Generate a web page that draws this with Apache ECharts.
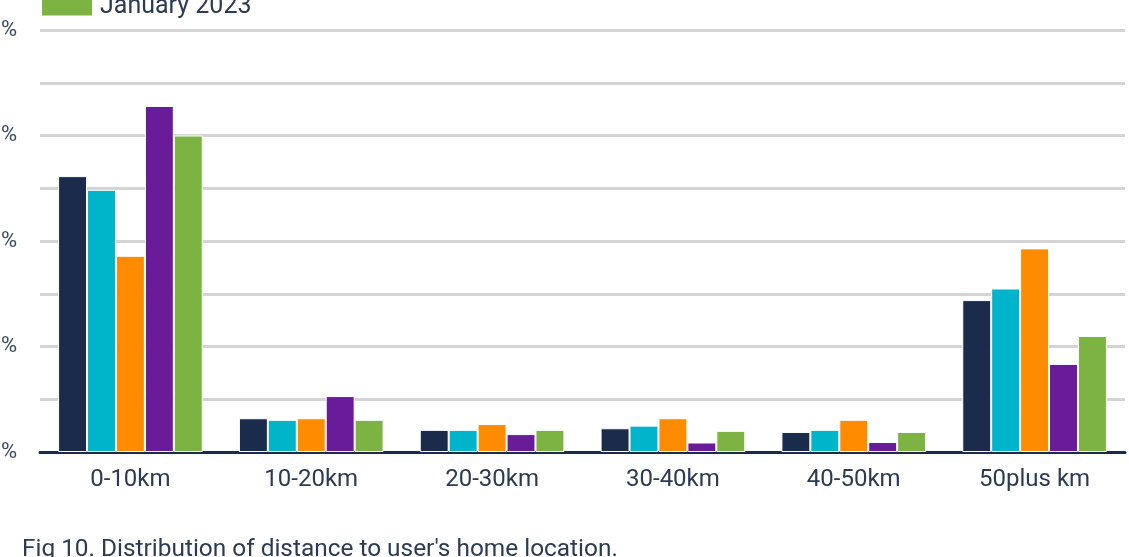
<!DOCTYPE html>
<html>
<head>
<meta charset="utf-8">
<script src="https://cdn.jsdelivr.net/npm/echarts@6/dist/echarts.min.js"></script>
<style>
  html, body { margin: 0; padding: 0; background: #fff; }
  #chart { width: 1129px; height: 557px; }
</style>
</head>
<body>
<div id="chart"></div>
<script>
// Distance bands from the user's home location
const categories = ['0-10km', '10-20km', '20-30km', '30-40km', '40-50km', '50plus km'];

// Share of visits per distance band (%), one array per snapshot
const seriesNames = ['January 2019', 'January 2020', 'January 2021', 'January 2022', 'January 2023'];
const jan2019 = [52.3, 6.4, 4.2, 4.5, 3.8, 28.8];
const jan2020 = [49.7, 6.1, 4.2, 5.0, 4.2, 31.0];
const jan2021 = [37.2, 6.4, 5.3, 6.4, 6.1, 38.6];
const jan2022 = [65.6, 10.6, 3.4, 1.8, 1.9, 16.7];
const jan2023 = [60.0, 6.1, 4.2, 4.0, 3.8, 22.0];
const seriesValues = [jan2019, jan2020, jan2021, jan2022, jan2023];
const colors = ['#1b2b4b', '#00b5c9', '#ff8c00', '#6a1b9a', '#7cb342'];

const textColor = '#2b3a55';
const font = 'Roboto';

const chart = echarts.init(document.getElementById('chart'), null, { renderer: 'canvas' });

chart.setOption({
  animation: false,
  color: colors,
  textStyle: { fontFamily: font },
  title: {
    text: "Fig 10. Distribution of distance to user's home location.",
    left: 17,
    top: 533,
    textStyle: { fontFamily: font, fontSize: 24.4, fontWeight: 'normal', color: textColor }
  },
  legend: {
    orient: 'vertical',
    left: 35,
    top: -151,
    itemWidth: 52,
    itemHeight: 20,
    itemGap: 10,
    icon: 'rect',
    textStyle: { fontFamily: font, fontSize: 25, color: textColor, padding: [0, 0, 0, 2] },
    data: seriesNames
  },
  grid: { left: 40, right: 4, top: 30, bottom: 105, containLabel: false, outerBoundsMode: 'none' },
  xAxis: {
    type: 'category',
    data: categories,
    axisLine: { lineStyle: { color: '#1b2b4b', width: 3 } },
    axisTick: { show: false },
    axisLabel: { fontFamily: font, fontSize: 24, color: textColor, margin: 16 }
  },
  yAxis: {
    type: 'value',
    min: 0,
    max: 80,
    interval: 20,
    axisLine: { show: false },
    axisTick: { show: false },
    axisLabel: {
      fontFamily: font, fontSize: 22, color: '#3a4a68', margin: 23,
      formatter: v => v + '%'
    },
    splitLine: { lineStyle: { color: '#d4d4d4', width: 3 } },
    minorTick: { show: false, splitNumber: 2 },
    minorSplitLine: { show: true, lineStyle: { color: '#d4d4d4', width: 3 } }
  },
  series: seriesNames.map((name, i) => ({
    name,
    type: 'bar',
    data: seriesValues[i],
    barGap: '0%',
    barCategoryGap: '20%',
    itemStyle: { color: colors[i], borderColor: '#ffffff', borderWidth: 1 }
  }))
});
</script>
</body>
</html>
